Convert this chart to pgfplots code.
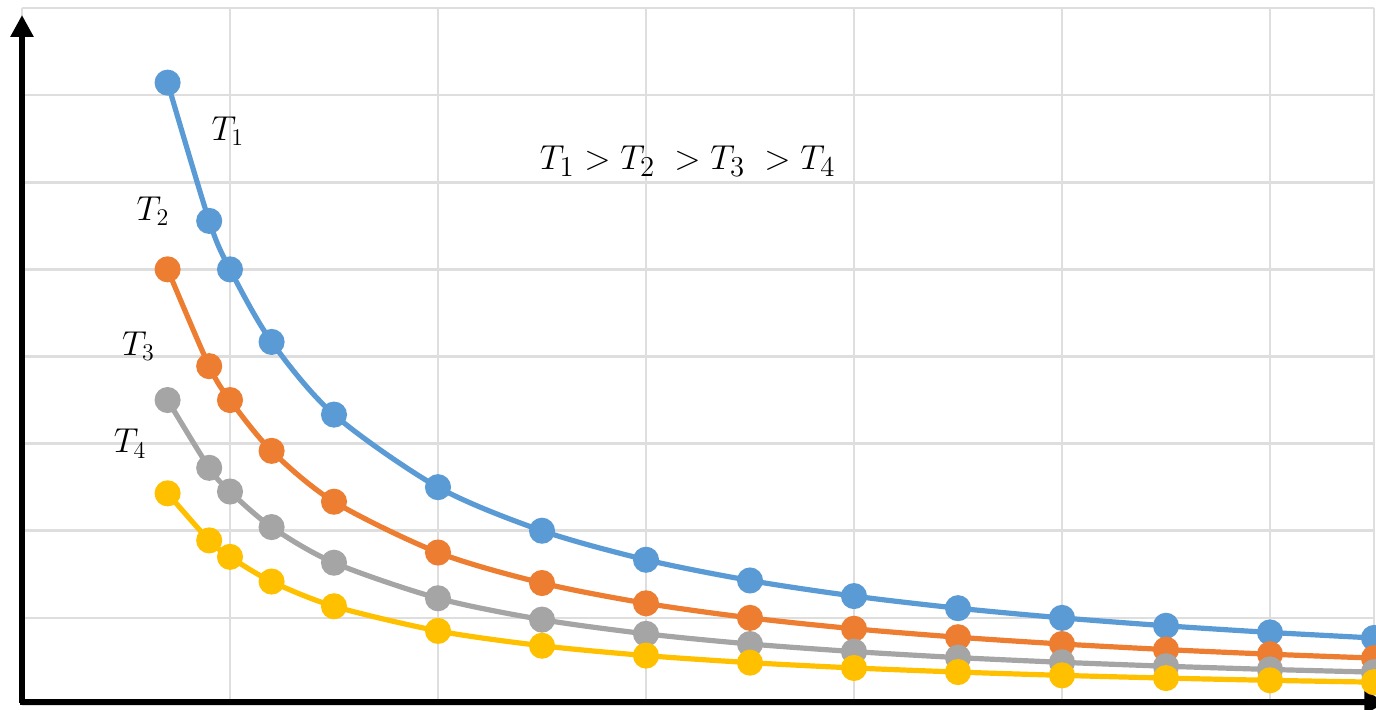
\documentclass[border=0pt]{standalone}
\usepackage{pgfplots}
\pgfplotsset{compat=1.18}
\usetikzlibrary{arrows.meta}
\definecolor{cA}{HTML}{5B9BD5}
\definecolor{cB}{HTML}{ED7D31}
\definecolor{cC}{HTML}{A5A5A5}
\definecolor{cD}{HTML}{FFC000}
\definecolor{gridc}{HTML}{DEDEDE}
\pgfplotstableread{
x y
0.7 7.143
0.9 5.556
1.0 5.000
1.2 4.167
1.5 3.333
2.0 2.500
2.5 2.000
3.0 1.667
3.5 1.429
4.0 1.250
4.5 1.111
5.0 1.000
5.5 0.909
6.0 0.833
6.5 0.769
}\tA
\pgfplotstableread{
x y
0.7 5.000
0.9 3.889
1.0 3.500
1.2 2.917
1.5 2.333
2.0 1.750
2.5 1.400
3.0 1.167
3.5 1.000
4.0 0.875
4.5 0.778
5.0 0.700
5.5 0.636
6.0 0.583
6.5 0.538
}\tB
\pgfplotstableread{
x y
0.7 3.500
0.9 2.722
1.0 2.450
1.2 2.042
1.5 1.633
2.0 1.225
2.5 0.980
3.0 0.817
3.5 0.700
4.0 0.613
4.5 0.544
5.0 0.490
5.5 0.445
6.0 0.408
6.5 0.377
}\tC
\pgfplotstableread{
x y
0.7 2.429
0.9 1.889
1.0 1.700
1.2 1.417
1.5 1.133
2.0 0.850
2.5 0.680
3.0 0.567
3.5 0.486
4.0 0.425
4.5 0.378
5.0 0.340
5.5 0.309
6.0 0.283
6.5 0.262
}\tD
\begin{document}
\begin{tikzpicture}
\begin{axis}[
  scale only axis, width=676pt, height=348.5pt,
  xmin=0, xmax=6.5, ymin=0, ymax=8,
  axis line style={draw=none},
  xtick={0,1,2,3,4,5,6,6.5}, ytick={0,1,...,8},
  xticklabels={}, yticklabels={},
  major tick length=0pt,
  grid=major, grid style={gridc, line width=1.3pt},
  clip=false,
  every axis plot/.append style={line width=2.6pt, smooth, mark=*, mark size=5.2pt, mark options={solid}},
]
\coordinate (SW) at (rel axis cs:0,0);
\coordinate (NE) at (rel axis cs:1,1);
\addplot[cA, mark options={fill=cA, draw=cA}] table {\tA};
\addplot[cB, mark options={fill=cB, draw=cB}] table {\tB};
\addplot[cC, mark options={fill=cC, draw=cC}] table {\tC};
\addplot[cD, mark options={fill=cD, draw=cD}] table {\tD};
\draw[black, line width=3pt, -{Triangle[length=11pt,width=11pt]}] (axis cs:0,0.02) -- (axis cs:0,7.92);
\draw[black, line width=3pt, -{Triangle[length=11pt,width=11pt]}] (axis cs:-0.01,0.03) -- (axis cs:6.56,0.03);
\node[font=\fontsize{18}{21}\selectfont] at (axis cs:0.99,6.59) {$T_1$};
\node[font=\fontsize{18}{21}\selectfont] at (axis cs:0.63,5.67) {$T_2$};
\node[font=\fontsize{18}{21}\selectfont] at (axis cs:0.56,4.12) {$T_3$};
\node[font=\fontsize{18}{21}\selectfont] at (axis cs:0.52,3.00) {$T_4$};
\node[font=\fontsize{19}{23}\selectfont] at (axis cs:3.2,6.24) {$T_1 > T_2\; > T_3\; > T_4$};
\end{axis}
\pgfresetboundingbox
\path[use as bounding box] ([shift={(-11pt,-2.5pt)}]SW) rectangle ([shift={(1pt,4pt)}]NE);
\end{tikzpicture}
\end{document}
